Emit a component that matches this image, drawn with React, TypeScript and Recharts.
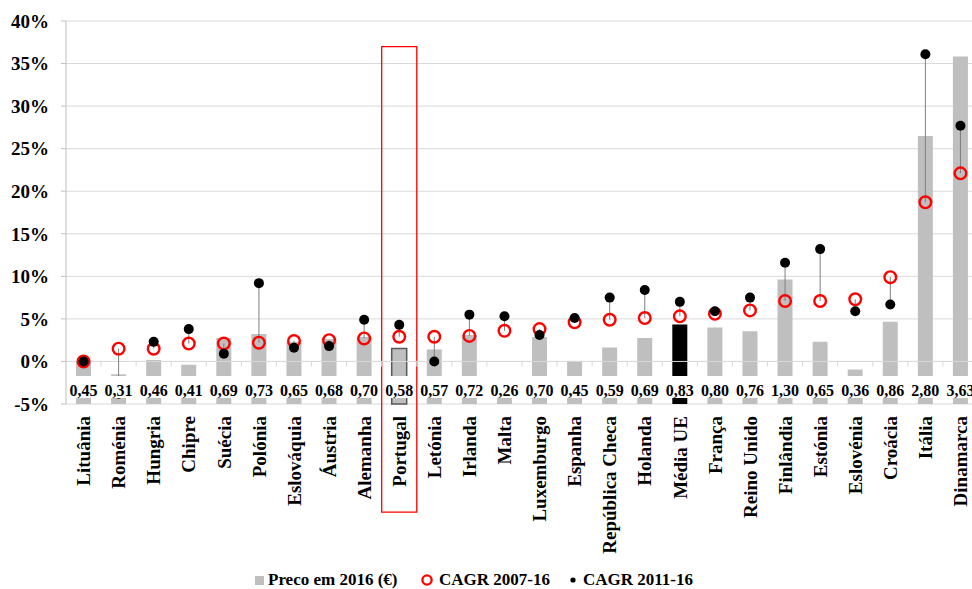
import React from 'react';
import {
  ComposedChart,
  Bar,
  Line,
  XAxis,
  YAxis,
  CartesianGrid,
  ReferenceLine,
  ReferenceArea,
  ErrorBar,
  LabelList,
  Legend,
  Cell,
} from 'recharts';

const FONT = '"Times New Roman", "Liberation Serif", serif';

const countries = [
  'Lituânia', 'Roménia', 'Hungria', 'Chipre', 'Suécia', 'Polónia', 'Eslováquia',
  'Áustria', 'Alemanha', 'Portugal', 'Letónia', 'Irlanda', 'Malta', 'Luxemburgo',
  'Espanha', 'República Checa', 'Holanda', 'Média UE', 'França', 'Reino Unido',
  'Finlândia', 'Estónia', 'Eslovénia', 'Croácia', 'Itália', 'Dinamarca',
];

// price in 2016 (€)
const price2016 = [
  0.45, 0.31, 0.46, 0.41, 0.69, 0.73, 0.65, 0.68, 0.70, 0.58, 0.57, 0.72, 0.26,
  0.70, 0.45, 0.59, 0.69, 0.83, 0.80, 0.76, 1.30, 0.65, 0.36, 0.86, 2.80, 3.63,
];

// growth rates in %
const cagr0716 = [
  0.0, 1.5, 1.5, 2.1, 2.1, 2.2, 2.4, 2.5, 2.7, 2.9, 2.9, 3.0, 3.6,
  3.8, 4.6, 4.9, 5.1, 5.3, 5.6, 6.0, 7.1, 7.1, 7.3, 9.9, 18.7, 22.1,
];
const cagr1116 = [
  0.0, -3.8, 2.3, 3.8, 0.9, 9.2, 1.6, 1.8, 4.9, 4.3, 0.0, 5.5, 5.3,
  3.1, 5.1, 7.5, 8.4, 7.0, 5.9, 7.5, 11.6, 13.2, 5.9, 6.7, 36.1, 27.7,
];

const pctTicks = [-5, 0, 5, 10, 15, 20, 25, 30, 35, 40];

const HIGHLIGHT = 'Portugal';
const AVERAGE = 'Média UE';

const data = countries.map((country, i) => {
  const a = cagr0716[i];
  const b = cagr1116[i];
  return {
    country,
    price: price2016[i],
    cagr0716: a,
    cagr1116: b,
    // high-low line from the 2007-16 point to the 2011-16 point
    hiLo: [Math.max(0, a - b), Math.max(0, b - a)],
  };
});

const fmtPrice = (v: number) => v.toFixed(2).replace('.', ',');

function PriceLabel(props: any) {
  const vb = props.viewBox ?? props;
  const { x, y, width, height } = vb;
  const cx = x + width / 2;
  const base = y + height;
  return (
    <g>
      <rect x={cx - 16} y={base - 28} width={32} height={22} fill="#fff" />
      <text
        x={cx}
        y={base - 14}
        textAnchor="middle"
        dominantBaseline="central"
        fontFamily={FONT}
        fontWeight="bold"
        fontSize={16}
        fill="#000"
      >
        {fmtPrice(Number(props.value))}
      </text>
    </g>
  );
}

function CountryTick({ x, y, payload }: any) {
  return (
    <text
      transform={`translate(${x},${y}) rotate(-90)`}
      textAnchor="end"
      dy="0.35em"
      fontFamily={FONT}
      fontWeight="bold"
      fontSize={19}
      fill="#000"
    >
      {payload.value}
    </text>
  );
}

function LegendContent() {
  const text: React.CSSProperties = {
    fontFamily: FONT,
    fontWeight: 'bold',
    fontSize: 17,
    color: '#000',
    whiteSpace: 'nowrap',
  };
  const item = (left: number): React.CSSProperties => ({
    position: 'absolute',
    left,
    top: 4,
    height: 18,
    display: 'flex',
    alignItems: 'center',
  });
  return (
    <div style={{ position: 'relative', height: 22 }}>
      <div style={item(255)}>
        <svg width={9} height={9} style={{ marginRight: 4 }}>
          <rect x={0} y={0} width={9} height={9} fill="#bfbfbf" />
        </svg>
        <span style={text}>Preco em 2016 (€)</span>
      </div>
      <div style={item(421)}>
        <svg width={12} height={12} style={{ marginRight: 6 }}>
          <circle cx={6} cy={6} r={4.6} fill="none" stroke="#ff0000" strokeWidth={2.3} />
        </svg>
        <span style={text}>CAGR 2007-16</span>
      </div>
      <div style={item(570)}>
        <svg width={6} height={6} style={{ marginRight: 7 }}>
          <circle cx={3} cy={3} r={2.6} fill="#000" />
        </svg>
        <span style={text}>CAGR 2011-16</span>
      </div>
    </div>
  );
}

export default function App() {
  return (
    <div
      style={{
        position: 'absolute',
        left: 0,
        top: 0,
        width: 972,
        height: 589,
        overflow: 'hidden',
        background: '#fff',
      }}
    >
      <ComposedChart
        width={980}
        height={589}
        data={data}
        margin={{ top: 21, right: 2, bottom: 0, left: 0 }}
      >
        <CartesianGrid yAxisId="pct" vertical={false} stroke="#d9d9d9" />
        <XAxis
          dataKey="country"
          interval={0}
          axisLine={false}
          tickLine={false}
          tickSize={0}
          tickMargin={12}
          height={163}
          tick={<CountryTick />}
        />
        <XAxis xAxisId="labels" dataKey="country" hide />
        <YAxis
          yAxisId="pct"
          domain={[-5, 40]}
          ticks={pctTicks}
          width={66}
          stroke="#bfbfbf"
          tickSize={5}
          tickMargin={12}
          tickFormatter={(v) => `${v}%`}
          tick={{ fill: '#000', fontSize: 19, fontWeight: 'bold', fontFamily: FONT }}
        />
        <YAxis yAxisId="price" orientation="right" domain={[0, 4]} hide />

        <Bar dataKey="price" yAxisId="price" barSize={15} fill="#bfbfbf" isAnimationActive={false}>
          {data.map((d) => (
            <Cell
              key={d.country}
              fill={d.country === AVERAGE ? '#000' : '#bfbfbf'}
              stroke={d.country === HIGHLIGHT ? '#595959' : 'none'}
              strokeWidth={d.country === HIGHLIGHT ? 1.5 : 0}
            />
          ))}
        </Bar>

        {/* category axis crossing at 0% with tick marks between categories */}
        <ReferenceLine yAxisId="pct" y={0} stroke="#d9d9d9" />
        {countries.slice(1).map((c) => (
          <ReferenceLine
            key={`tick-${c}`}
            yAxisId="pct"
            position="start"
            segment={[{ x: c, y: 0 }, { x: c, y: -0.6 }]}
            stroke="#d9d9d9"
          />
        ))}

        <Line
          yAxisId="pct"
          dataKey="cagr0716"
          stroke="none"
          dot={{ r: 5.8, fill: 'none', stroke: '#ff0000', strokeWidth: 2.4 }}
          activeDot={false}
          isAnimationActive={false}
        >
          <ErrorBar
            dataKey="hiLo"
            direction="y"
            width={0}
            stroke="#7f7f7f"
            strokeWidth={1}
            isAnimationActive={false}
          />
        </Line>
        <Line
          yAxisId="pct"
          dataKey="cagr1116"
          stroke="none"
          dot={{ r: 5, fill: '#000', stroke: 'none' }}
          activeDot={false}
          isAnimationActive={false}
        />

        {/* price labels in white boxes, drawn above the markers */}
        <Bar
          dataKey="price"
          yAxisId="price"
          xAxisId="labels"
          barSize={15}
          fill="none"
          isAnimationActive={false}
        >
          <LabelList dataKey="price" content={<PriceLabel />} />
        </Bar>

        <ReferenceArea
          yAxisId="pct"
          x1={HIGHLIGHT}
          x2={HIGHLIGHT}
          y1={-17.7}
          y2={37}
          ifOverflow="visible"
          fill="none"
          stroke="#ff0000"
          strokeWidth={1.3}
        />

        <Legend verticalAlign="bottom" content={<LegendContent />} />
      </ComposedChart>
    </div>
  );
}
